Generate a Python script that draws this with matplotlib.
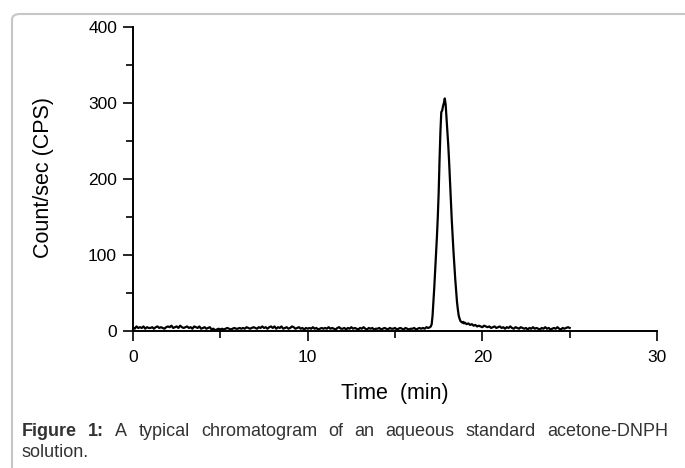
import numpy as np
from matplotlib import pyplot as plt
from matplotlib.patches import FancyBboxPatch

plt.rcParams['font.family'] = ['Liberation Sans', 'DejaVu Sans']

# baseline before the peak, 0.0 - 17.0 min every 0.1 min
t_pre = np.round(np.arange(0, 171) * 0.1, 2)
cps_pre = [5, 3, 6, 4, 5, 4, 6, 3, 5, 4,
           4, 5, 3, 5, 6, 4, 5, 4, 3, 5,
           6, 5, 7, 4, 5, 6, 4, 7, 5, 4,
           5, 6, 4, 5, 3, 6, 5, 4, 6, 3,
           4, 5, 3, 4, 5, 2, 3, 1, 2, 3,
           2, 3, 2, 3, 4, 3, 2, 3, 4, 3,
           3, 4, 3, 4, 3, 5, 4, 3, 4, 5,
           4, 3, 5, 4, 6, 4, 5, 3, 5, 6,
           4, 6, 3, 5, 4, 6, 3, 4, 5, 3,
           4, 6, 5, 3, 4, 5, 3, 4, 2, 4,
           3, 4, 3, 5, 3, 4, 2, 3, 4, 3,
           4, 3, 5, 3, 4, 3, 2, 4, 5, 3,
           3, 4, 2, 4, 3, 5, 3, 4, 3, 2,
           4, 3, 5, 3, 2, 4, 3, 4, 2, 3,
           3, 4, 2, 3, 4, 3, 2, 4, 3, 3,
           4, 2, 3, 4, 3, 2, 4, 3, 2, 3,
           3, 4, 2, 3, 4, 3, 4, 3, 5, 4,
           5]

# acetone-DNPH peak, 17.05 - 19.00 min every 0.05 min
t_peak = np.round(17.0 + np.arange(1, 41) * 0.05, 2)
cps_peak = [6, 9, 20, 38, 58, 80, 102, 124, 150, 182,
            225, 262, 288, 290, 296, 300, 306, 298, 280, 262,
            244, 222, 196, 170, 146, 124, 104, 85, 68, 52,
            38, 28, 20, 16, 13, 12, 11, 12, 10, 11]

# tail, 19.1 - 25.0 min every 0.1 min
t_post = np.round(19.0 + np.arange(1, 61) * 0.1, 2)
cps_post = [9, 10, 8, 9, 7, 8, 6, 7, 6,
            5, 7, 6, 5, 6, 4, 5, 6, 4, 5,
            6, 4, 5, 3, 5, 4, 6, 4, 3, 5,
            4, 3, 5, 4, 3, 4, 2, 4, 3, 5,
            3, 4, 3, 2, 4, 3, 5, 3, 4, 2,
            3, 4, 3, 5, 3, 2, 4, 3, 4, 5,
            4]

t = np.concatenate([t_pre, t_peak, t_post])
cps = np.concatenate([cps_pre, cps_peak, cps_post])

fig = plt.figure(figsize=(6.85, 4.68), dpi=100)
W, H = 685.0, 468.0

# grey rounded frame (right and bottom run off the page)
frame = FancyBboxPatch((12 / W, -20 / H), 700 / W, (468 - 14 + 20) / H,
                       boxstyle='round,pad=0,rounding_size=0.012',
                       transform=fig.transFigure, fill=False,
                       edgecolor='#c6c6c6', linewidth=1.5)
fig.patches.append(frame)

ax = fig.add_axes([133 / W, 1 - 331 / H, 524 / W, 304 / H])
ax.plot(t, cps, color='black', linewidth=1.6)

ax.set_xlim(0, 30)
ax.set_ylim(0, 400)
ax.set_xticks([0, 10, 20, 30])
ax.set_xticks([5, 15, 25], minor=True)
ax.set_yticks([0, 100, 200, 300, 400])
ax.set_yticks([50, 150, 250, 350], minor=True)
for s in ['top', 'right']:
    ax.spines[s].set_visible(False)
for s in ['left', 'bottom']:
    ax.spines[s].set_linewidth(1.4)
ax.tick_params(which='major', length=7.5, width=1.2, labelsize=12.5)
ax.tick_params(which='minor', length=5, width=1.2)
ax.tick_params(axis='x', which='major', pad=6)
ax.tick_params(axis='y', which='major', pad=4)

fig.text(395 / W, 1 - 394 / H, 'Time  (min)', ha='center', va='center',
         fontsize=15.5)
fig.text(44 / W, 1 - 178 / H, 'Count/sec (CPS)', ha='center', va='center',
         rotation=90, fontsize=15.5)

# justified caption, first line spread from x=22 to x=668
cap_size = 13
cap_color = '#333333'
words = [('Figure', 'bold'), ('1:', 'bold'), ('A', 'normal'), ('typical', 'normal'),
         ('chromatogram', 'normal'), ('of', 'normal'), ('an', 'normal'),
         ('aqueous', 'normal'), ('standard', 'normal'), ('acetone-DNPH', 'normal')]
y1 = 1 - 436 / H
fig.canvas.draw()
r = fig.canvas.get_renderer()
items = []
total = 0
for w, wt in words:
    tx = fig.text(0, y1, w, fontsize=cap_size, fontweight=wt, color=cap_color,
                  va='baseline')
    bw = tx.get_window_extent(renderer=r).width
    items.append((tx, bw))
    total += bw
gap = (646 - total) / (len(words) - 1)
x = 22.0
for tx, bw in items:
    tx.set_x(x / W)
    x += bw + gap
fig.text(22 / W, 1 - 457 / H, 'solution.', fontsize=cap_size, color=cap_color,
         va='baseline')

plt.savefig('out.png', dpi=100)
